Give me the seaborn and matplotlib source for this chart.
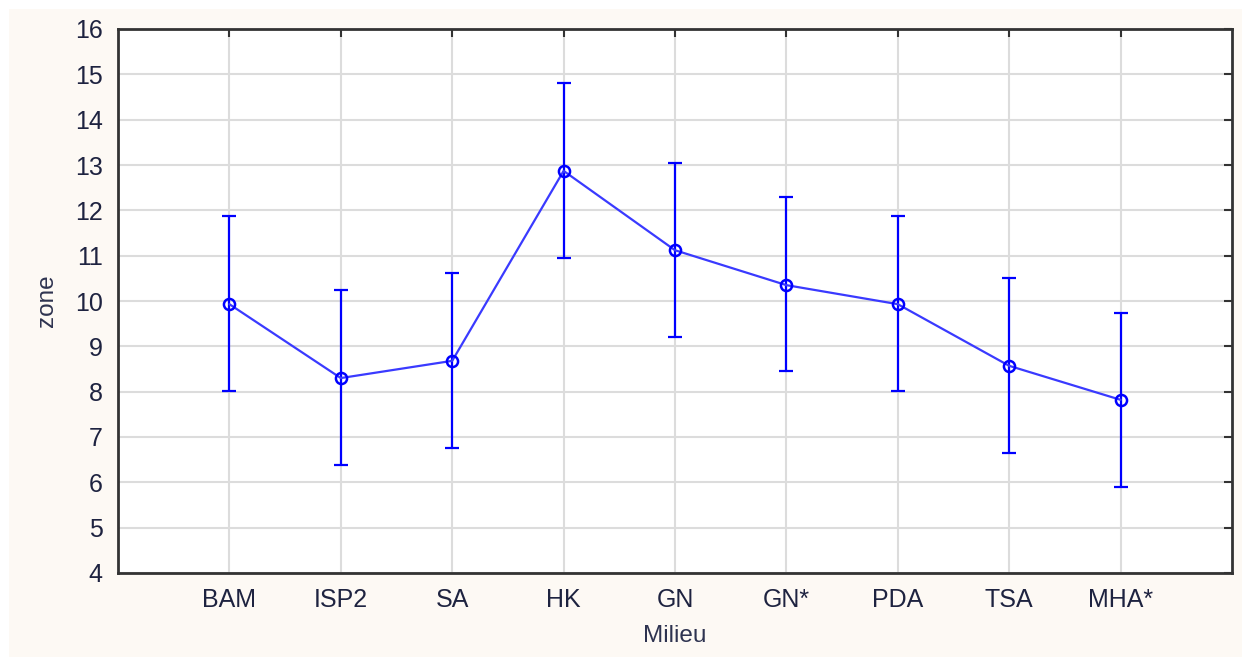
import matplotlib
matplotlib.use("Agg")
import matplotlib.pyplot as plt
from matplotlib.patches import Rectangle
import numpy as np
import pandas as pd
import seaborn as sns

categories = ["BAM", "ISP2", "SA", "HK", "GN", "GN*", "PDA", "TSA", "MHA*"]
means = [9.93, 8.30, 8.68, 12.87, 11.12, 10.35, 9.93, 8.57, 7.82]
upper = [11.88, 10.24, 10.62, 14.81, 13.04, 12.29, 11.88, 10.50, 9.74]
lower = [8.01, 6.38, 6.76, 10.95, 9.20, 8.46, 8.01, 6.65, 5.90]
yticks = list(range(4, 17))

sns.set_theme(style="white")
plt.rcParams["font.family"] = ["Liberation Sans", "DejaVu Sans"]

fig = plt.figure(figsize=(12.42, 6.57), dpi=100, facecolor="white")
fig.patches.append(Rectangle((9 / 1242, 0), 1, 1 - 9 / 657, transform=fig.transFigure,
                             facecolor="#fdf9f4", edgecolor="none", zorder=-10))
ax = fig.add_axes([118 / 1242, 1 - 573 / 657, (1232 - 118) / 1242, (573 - 29) / 657])
ax.set_facecolor("white")

pos = np.arange(len(categories))
df = pd.DataFrame({"pos": pos, "mean": means})

ax.errorbar(pos, means,
            yerr=[np.array(means) - np.array(lower), np.array(upper) - np.array(means)],
            fmt="none", ecolor="#0000ff", elinewidth=1.6, capsize=5, capthick=1.6, zorder=3)
sns.lineplot(data=df, x="pos", y="mean", ax=ax, color="#3a3aff", linewidth=1.6,
             marker="o", markersize=8, markerfacecolor="none",
             markeredgecolor="#0000ff", markeredgewidth=1.8, zorder=4)

ax.set_xlim(-1, 9)
ax.set_ylim(4, 16)
ax.set_xticks(pos)
ax.set_xticklabels(categories)
ax.set_yticks(yticks)
ax.set_yticklabels([str(t) for t in yticks])
ax.grid(True, color="#dcdcdc", linewidth=1.5, zorder=0)
ax.set_axisbelow(True)

ax.tick_params(axis="both", direction="in", length=6, width=1.5, color="#333333",
               labelsize=18, labelcolor="#1e2340", top=True, right=True, pad=11)
for s in ax.spines.values():
    s.set_color("#333333")
    s.set_linewidth(2)
    s.set_visible(True)

ax.set_xlabel("Milieu", fontsize=17.5, color="#2e3350", labelpad=9)
ax.set_ylabel("zone", fontsize=17.5, color="#2e3350", labelpad=12)

fig.savefig("out.png", dpi=100, facecolor=fig.get_facecolor())
